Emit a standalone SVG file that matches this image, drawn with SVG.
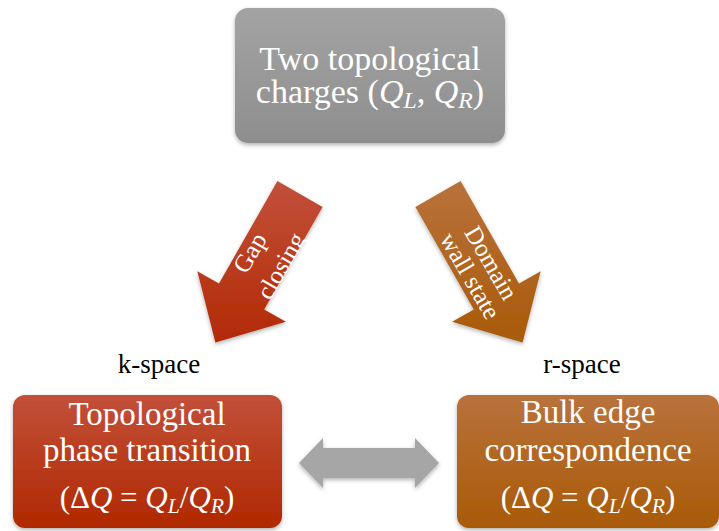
<svg xmlns="http://www.w3.org/2000/svg" width="719" height="531" viewBox="0 0 719 531">
  <defs>
    <linearGradient id="gGray" x1="0" y1="0" x2="0" y2="1">
      <stop offset="0" stop-color="#a3a3a3"/>
      <stop offset="1" stop-color="#8e8e8e"/>
    </linearGradient>
    <linearGradient id="gRed" x1="0" y1="0" x2="0" y2="1">
      <stop offset="0" stop-color="#c2503a"/>
      <stop offset="1" stop-color="#b02800"/>
    </linearGradient>
    <linearGradient id="gOrange" x1="0" y1="0" x2="0" y2="1">
      <stop offset="0" stop-color="#b9723c"/>
      <stop offset="1" stop-color="#a95a06"/>
    </linearGradient>
    <linearGradient id="gRedArrow" gradientUnits="userSpaceOnUse" x1="0" y1="181" x2="0" y2="343">
      <stop offset="0" stop-color="#c2503a"/>
      <stop offset="1" stop-color="#b22a05"/>
    </linearGradient>
    <linearGradient id="gOrangeArrow" gradientUnits="userSpaceOnUse" x1="0" y1="181" x2="0" y2="343">
      <stop offset="0" stop-color="#b9723c"/>
      <stop offset="1" stop-color="#a85a08"/>
    </linearGradient>
    <filter id="shadow" x="-10%" y="-10%" width="120%" height="130%">
      <feDropShadow dx="0" dy="2" stdDeviation="2" flood-color="#000" flood-opacity="0.3"/>
    </filter>
  </defs>
  <style>
    .t { font-family: "Liberation Serif", "Times New Roman", serif; fill: #ffffff; text-anchor: middle; }
    .big { font-size: 34px; }
    .mid { font-size: 33px; }
    .math { font-size: 31px; }
    .arr { font-size: 25px; }
    .lab { font-family: "Liberation Serif", "Times New Roman", serif; font-size: 27px; fill: #000000; text-anchor: middle; }
    .it { font-style: italic; }
    .sub { font-style: italic; font-size: 70%; baseline-shift: -5px; }
  </style>
  <rect width="719" height="531" fill="#ffffff"/>

  <g id="top-node">
    <rect x="235" y="8" width="270" height="135" rx="13" ry="13" fill="url(#gGray)" filter="url(#shadow)"/>
    <text class="t big" x="370" y="70">Two topological</text>
    <text class="t big" x="370" y="103">charges (<tspan class="it">Q</tspan><tspan class="sub">L</tspan>, <tspan class="it">Q</tspan><tspan class="sub">R</tspan>)</text>
  </g>

  <g id="left-node">
    <rect x="13" y="395" width="269" height="133" rx="12" ry="12" fill="url(#gRed)" filter="url(#shadow)"/>
    <text class="t mid" x="147" y="425">Topological</text>
    <text class="t mid" x="147" y="461">phase transition</text>
    <text class="t math" x="147" y="508">(Δ<tspan class="it">Q</tspan> = <tspan class="it">Q</tspan><tspan class="sub">L</tspan>/<tspan class="it">Q</tspan><tspan class="sub">R</tspan>)</text>
  </g>

  <g id="right-node">
    <rect x="457" y="395" width="262" height="133" rx="12" ry="12" fill="url(#gOrange)" filter="url(#shadow)"/>
    <text class="t mid" x="588" y="423">Bulk edge</text>
    <text class="t mid" x="588" y="461">correspondence</text>
    <text class="t math" x="588" y="508">(Δ<tspan class="it">Q</tspan> = <tspan class="it">Q</tspan><tspan class="sub">L</tspan>/<tspan class="it">Q</tspan><tspan class="sub">R</tspan>)</text>
  </g>

  <g id="labels">
    <text class="lab" x="159" y="373">k-space</text>
    <text class="lab" x="582" y="373">r-space</text>
  </g>

  <g id="connectors">
    <g id="arrow-gap-closing">
      <path d="M322.6,206.9 L264.2,309.4 L285.9,321.8 L215.4,342.6 L197.3,271.2 L219.0,283.6 L277.4,181.1 Z" fill="url(#gRedArrow)" filter="url(#shadow)"/>
      <text class="t arr" transform="translate(257,257) rotate(-60)" x="0" y="0">Gap</text>
      <text class="t arr" transform="translate(288,270) rotate(-60)" x="0" y="0">closing</text>
    </g>
    <g id="arrow-domain-wall">
      <path d="M415.4,206.9 L473.8,309.4 L452.1,321.8 L522.6,342.6 L540.7,271.2 L519.0,283.6 L460.6,181.1 Z" fill="url(#gOrangeArrow)" filter="url(#shadow)"/>
      <text class="t arr" transform="translate(484,267) rotate(60)" x="0" y="0">Domain</text>
      <text class="t arr" transform="translate(463,280) rotate(60)" x="0" y="0">wall state</text>
    </g>
    <g id="double-arrow">
      <path d="M299,463 L323,438 L323,448 L415,448 L415,438 L439,463 L415,488 L415,478 L323,478 L323,488 Z" fill="#a6a6a6" filter="url(#shadow)"/>
    </g>
  </g>
</svg>
